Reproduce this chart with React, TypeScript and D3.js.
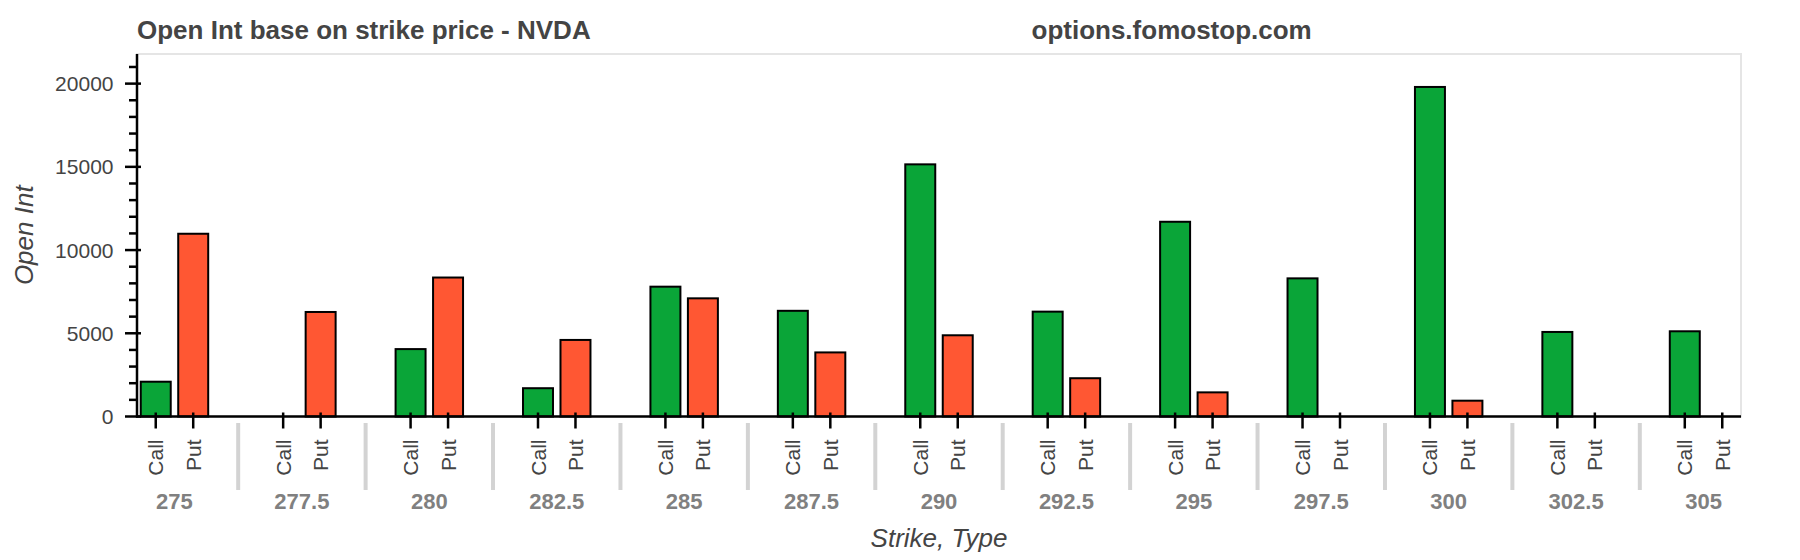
import React from "react";
import * as d3 from "d3";

const strikes = ["275", "277.5", "280", "282.5", "285", "287.5", "290", "292.5", "295", "297.5", "300", "302.5", "305"];
const types = ["Call", "Put"];
const callValues = [2090, 0, 4050, 1700, 7800, 6350, 15150, 6300, 11700, 8300, 19800, 5080, 5120];
const putValues = [10980, 6280, 8350, 4600, 7100, 3850, 4880, 2300, 1450, 0, 950, 0, 0];
const yMajorTicks = [0, 5000, 10000, 15000, 20000];
const yMinorTicks = [1000, 2000, 3000, 4000, 6000, 7000, 8000, 9000, 11000, 12000, 13000, 14000, 16000, 17000, 18000, 19000, 21000];
const titleText = "Open Int base on strike price - NVDA";
const siteText = "options.fomostop.com";
const xAxisLabel = "Strike, Type";
const yAxisLabel = "Open Int";

const W = 1800;
const H = 560;
const FONT = '"Liberation Sans", Arial, Helvetica, sans-serif';
const left = 137;
const right = 1741;
const top = 54;
const bottom = 416.5;
const groupPad = 1.4;
const groupSpan = types.length + groupPad;
const totalUnits = strikes.length * types.length + (strikes.length - 1) * groupPad;

const GREEN = "#0aa538";
const RED = "#ff5733";

export default function App() {
  const x = d3.scaleLinear().domain([0, totalUnits]).range([left, right]);
  const yMax = d3.max([...callValues, ...putValues]) as number;
  const y = d3.scaleLinear().domain([0, yMax * 1.1]).range([bottom, top]);
  const barW = x(0.8) - x(0);

  const bars: { key: string; cx: number; v: number; color: string }[] = [];
  strikes.forEach((s, i) => {
    const off = i * groupSpan;
    bars.push({ key: s + "c", cx: x(off + 0.5), v: callValues[i], color: GREEN });
    bars.push({ key: s + "p", cx: x(off + 1.5), v: putValues[i], color: RED });
  });

  return (
    <svg
      width={W}
      height={H}
      style={{ position: "absolute", left: 0, top: 0, display: "block", background: "#fff" }}
      fontFamily={FONT}
    >
      <rect x={0} y={0} width={W} height={H} fill="#fff" />
      {/* frame outline */}
      <rect x={left} y={top} width={right - left} height={bottom - top} fill="none" stroke="#e5e5e5" strokeWidth={2} />
      {/* title */}
      <text x={left} y={38.5} fontSize={26} fontWeight="bold" fill="#444444">{titleText}</text>
      <text x={1031.5} y={38.5} fontSize={26} fontWeight="bold" fill="#444444">{siteText}</text>
      {/* bars */}
      {bars.filter((b) => b.v > 0).map((b) => (
        <rect
          key={b.key}
          x={b.cx - barW / 2}
          y={y(b.v)}
          width={barW}
          height={y(0) - y(b.v)}
          fill={b.color}
          stroke="#000"
          strokeWidth={2}
        />
      ))}
      {/* y axis */}
      <line x1={left} x2={left} y1={top} y2={bottom + 1} stroke="#000" strokeWidth={2.5} />
      {yMajorTicks.map((t) => (
        <g key={"ym" + t}>
          <line x1={left - 12} x2={left + 4} y1={y(t)} y2={y(t)} stroke="#000" strokeWidth={2.5} />
          <text x={113.5} y={y(t)} textAnchor="end" dominantBaseline="central" fontSize={21} fill="#444444">{t}</text>
        </g>
      ))}
      {yMinorTicks.map((t) => (
        <line key={"yn" + t} x1={left - 8} x2={left} y1={y(t)} y2={y(t)} stroke="#000" strokeWidth={2.5} />
      ))}
      <text
        transform={`translate(33,${(top + bottom) / 2}) rotate(-90)`}
        textAnchor="middle"
        fontSize={26}
        fontStyle="italic"
        fill="#444444"
      >{yAxisLabel}</text>
      {/* x axis */}
      <line x1={left - 1} x2={right} y1={bottom} y2={bottom} stroke="#000" strokeWidth={2.5} />
      {strikes.map((s, i) => {
        const off = i * groupSpan;
        return (
          <g key={"g" + s}>
            {types.map((t, j) => {
              const cx = x(off + j + 0.5);
              return (
                <g key={t}>
                  <line x1={cx} x2={cx} y1={bottom - 4} y2={bottom + 12} stroke="#000" strokeWidth={2.5} />
                  <text
                    transform={`translate(${cx},439.5) rotate(-90)`}
                    textAnchor="end"
                    dominantBaseline="central"
                    fontSize={21}
                    fill="#444444"
                  >{t}</text>
                </g>
              );
            })}
            <text x={x(off + 1)} y={509.3} textAnchor="middle" fontSize={22} fontWeight="bold" fill="#808080">{s}</text>
            {i < strikes.length - 1 && (
              <line
                x1={x(off + types.length + groupPad / 2)}
                x2={x(off + types.length + groupPad / 2)}
                y1={423}
                y2={490}
                stroke="#d3d3d3"
                strokeWidth={4}
              />
            )}
          </g>
        );
      })}
      <text x={(left + right) / 2} y={547} textAnchor="middle" fontSize={26} fontStyle="italic" fill="#444444">{xAxisLabel}</text>
    </svg>
  );
}
